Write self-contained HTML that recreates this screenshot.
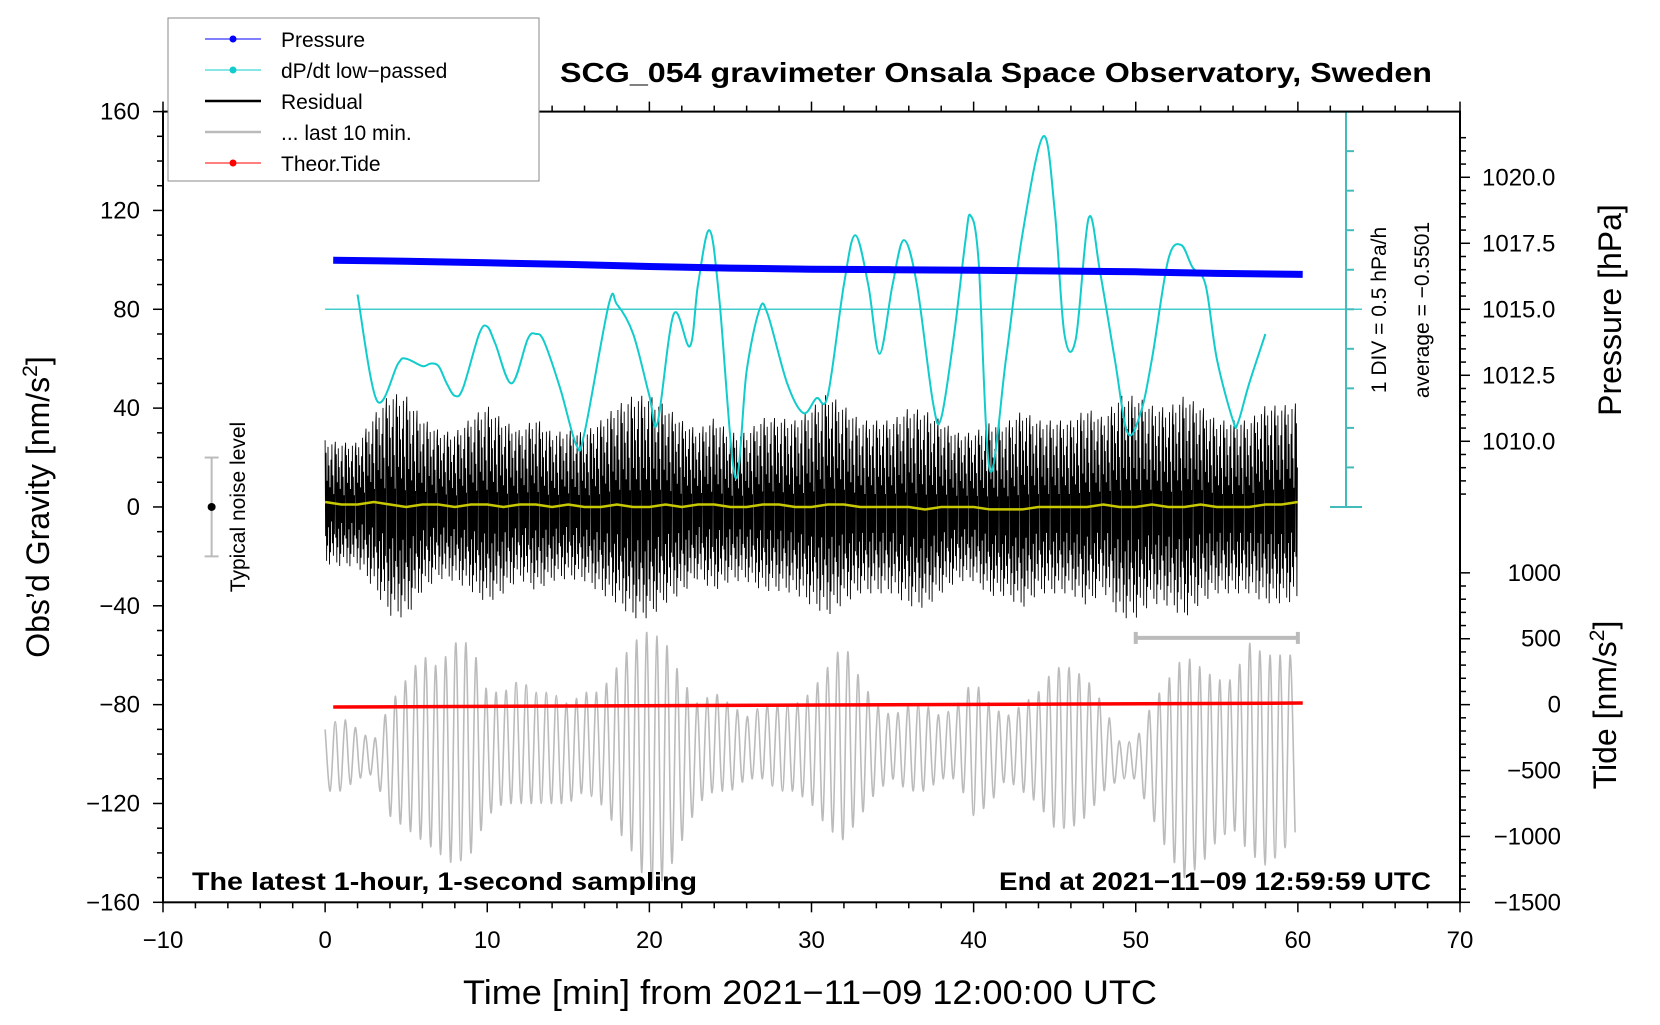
<!DOCTYPE html>
<html><head><meta charset="utf-8"><style>
html,body{margin:0;padding:0;background:#fff;}
svg text{font-family:"Liberation Sans",sans-serif;}
</style></head><body>
<svg id="c" width="1660" height="1020" viewBox="0 0 1660 1020" xmlns="http://www.w3.org/2000/svg">
<rect width="1660" height="1020" fill="#fff"/>
<g id="marks"></g>
<g id="axes"></g>
<text x="996" y="82" text-anchor="middle" font-size="28" font-weight="bold" textLength="872" lengthAdjust="spacingAndGlyphs">SCG_054 gravimeter Onsala Space Observatory, Sweden</text>
<text x="810" y="1004" text-anchor="middle" font-size="34" textLength="694" lengthAdjust="spacingAndGlyphs">Time [min] from 2021−11−09 12:00:00 UTC</text>
<text transform="translate(49,507) rotate(-90)" text-anchor="middle" font-size="32">Obs’d Gravity [nm/s<tspan font-size="21" dy="-12">2</tspan><tspan dy="12">]</tspan></text>
<text transform="translate(1621,310) rotate(-90)" text-anchor="middle" font-size="32">Pressure [hPa]</text>
<text transform="translate(1616,705) rotate(-90)" text-anchor="middle" font-size="32">Tide [nm/s<tspan font-size="21" dy="-12">2</tspan><tspan dy="12">]</tspan></text>
<text transform="translate(1386,310) rotate(-90)" text-anchor="middle" font-size="21">1 DIV = 0.5 hPa/h</text>
<text transform="translate(1429,310) rotate(-90)" text-anchor="middle" font-size="21">average = −0.5501</text>
<text transform="translate(245,507) rotate(-90)" text-anchor="middle" font-size="21">Typical noise level</text>
<text x="192" y="890" font-size="25" font-weight="bold" textLength="505" lengthAdjust="spacingAndGlyphs">The latest 1-hour, 1-second sampling</text>
<text x="1431" y="890" text-anchor="end" font-size="25" font-weight="bold" textLength="432" lengthAdjust="spacingAndGlyphs">End at 2021−11−09 12:59:59 UTC</text>
<g>
<rect x="168" y="18" width="371" height="163" fill="#fff" stroke="#888" stroke-width="1"/>
<g><line x1="205" y1="39" x2="261" y2="39" stroke="#00f" stroke-width="1"/><circle cx="233" cy="39" r="3.5" fill="#00f"/><text x="281" y="47" font-size="21">Pressure</text></g>
<g><line x1="205" y1="70" x2="261" y2="70" stroke="#1cc" stroke-width="1"/><circle cx="233" cy="70" r="3.5" fill="#1cc"/><text x="281" y="78" font-size="21">dP/dt low−passed</text></g>
<g><line x1="205" y1="101" x2="261" y2="101" stroke="#000" stroke-width="2.5"/><text x="281" y="109" font-size="21">Residual</text></g>
<g><line x1="205" y1="132" x2="261" y2="132" stroke="#bbb" stroke-width="2.5"/><text x="281" y="140" font-size="21">... last 10 min.</text></g>
<g><line x1="205" y1="163" x2="261" y2="163" stroke="#f00" stroke-width="1"/><circle cx="233" cy="163" r="3.5" fill="#f00"/><text x="281" y="171" font-size="21">Theor.Tide</text></g>
</g>
</svg>
<script>
// ---- data ----
const xTicks = [-10,0,10,20,30,40,50,60,70];
const gTicks = [160,120,80,40,0,-40,-80,-120,-160];
const pTicks = ["1020.0","1017.5","1015.0","1012.5","1010.0"];
const tTicks = [1000,500,0,-500,-1000,-1500];
const pressTime = [0.5,5,10,15,20,25,30,35,40,45,50,55,60.3];
const pressVal = [1016.86,1016.82,1016.76,1016.70,1016.62,1016.56,1016.52,1016.50,1016.48,1016.45,1016.42,1016.36,1016.32];
const dpTime = [2,3.2,4.5,5,6,6.5,7,7.5,8,8.5,9.5,10,10.5,11.5,12.5,13,13.5,14.5,15.5,16,17.5,18,19,20,20.5,21.5,22.5,23,23.7,24.3,25.3,26,26.8,27.3,28.5,29.5,30.3,31,32,32.7,33.5,34.2,35,35.7,36.5,37.5,38,38.8,39.5,39.8,40.3,41,42,43,44.3,45,45.6,46.3,47.1,47.8,48.7,49.5,50.3,51,52,52.8,53.5,54.3,55,56,56.3,57,58];
const dpVal = [-0.3626,-1.7064,-1.2376,-1.1751,-1.2689,-1.2376,-1.2689,-1.4876,-1.6439,-1.5501,-0.8626,-0.7689,-0.9876,-1.4876,-0.9251,-0.8626,-0.9564,-1.5501,-2.2689,-2.1126,-0.4876,-0.4876,-0.8626,-1.6439,-1.9876,-0.6126,-1.0189,-0.2376,0.4499,-0.3939,-2.6751,-1.3314,-0.5501,-0.6126,-1.4876,-1.8626,-1.6751,-1.6439,-0.2376,0.3874,-0.2376,-1.1126,-0.2376,0.3249,-0.2376,-1.7376,-1.9251,-0.8626,0.3249,0.6374,0.0749,-2.5814,-1.1751,0.3874,1.6374,0.6999,-0.8626,-0.9251,0.6061,-0.0814,-1.1751,-2.1126,-1.8626,-1.1751,0.0749,0.2624,-0.0189,-0.2376,-1.1751,-1.9564,-1.9876,-1.4876,-0.8626];
const resAmp = [25,25,25,35,45,45,35,30,30,35,40,35,30,35,30,30,30,35,40,45,45,40,35,30,35,30,30,35,35,35,40,45,40,35,35,35,40,40,35,30,30,35,35,40,35,35,35,40,35,45,45,40,40,45,40,35,35,35,40,40,40];
const yellowVal = [2,1,1,2,1,0,1,1,0,1,1,0,1,1,0,1,0,0,1,0,0,1,0,1,1,0,0,1,1,0,0,1,1,0,0,0,0,-1,0,0,0,-1,-1,-1,0,0,0,0,1,0,0,1,0,0,1,0,0,0,1,1,2];
const grayHi = [-90,-85,-90,-95,-80,-70,-60,-65,-55,-55,-75,-75,-70,-75,-75,-80,-75,-75,-65,-55,-50,-55,-70,-80,-75,-80,-85,-80,-80,-80,-75,-65,-55,-70,-80,-85,-80,-80,-85,-80,-70,-80,-85,-80,-75,-65,-65,-70,-80,-95,-95,-80,-70,-60,-65,-70,-70,-55,-60,-60,-60];
const grayLo = [-115,-115,-110,-108,-125,-130,-135,-140,-145,-140,-125,-120,-120,-120,-120,-120,-115,-120,-130,-140,-155,-150,-135,-120,-115,-115,-110,-110,-115,-115,-120,-130,-135,-125,-115,-110,-115,-115,-110,-110,-125,-120,-110,-115,-120,-130,-130,-125,-115,-110,-110,-125,-140,-150,-145,-135,-130,-140,-145,-140,-130];
const tideTime = [0.5,60.3];
const tideVal = [-18,12];
const dpAvg = -0.5501, dpDiv = 0.5;

// ---- scales ----
const X = t => 163 + (t + 10) * (1297 / 80);
const Y = g => 111.6 + (160 - g) * 2.471;
const YP = h => Y(80) - (h - 1015) * 26.4;
const YT = v => Y(-80) - v * 0.1318;
const YD = v => Y(80 + (v - dpAvg) / dpDiv * 16);
const AX = 1346;
const NS = "http://www.w3.org/2000/svg";
const marks = document.getElementById('marks');
const axes = document.getElementById('axes');
function mk(tag, attrs, parent) {
  const e = document.createElementNS(NS, tag);
  for (const k in attrs) e.setAttribute(k, attrs[k]);
  parent.appendChild(e);
  return e;
}
function interp(arr, t) { const i = Math.floor(t), f = t - i; const a = arr[Math.min(i, arr.length - 1)], b = arr[Math.min(i + 1, arr.length - 1)]; return a + (b - a) * f; }
function smoothPath(pts) {
  let d = 'M' + pts[0][0].toFixed(1) + ',' + pts[0][1].toFixed(1);
  for (let i = 0; i < pts.length - 1; i++) {
    const p0 = pts[Math.max(i - 1, 0)], p1 = pts[i], p2 = pts[i + 1], p3 = pts[Math.min(i + 2, pts.length - 1)];
    const c1 = [p1[0] + (p2[0] - p0[0]) / 6, p1[1] + (p2[1] - p0[1]) / 6];
    const c2 = [p2[0] - (p3[0] - p1[0]) / 6, p2[1] - (p3[1] - p1[1]) / 6];
    d += ' C' + c1.map(v => v.toFixed(1)).join(',') + ' ' + c2.map(v => v.toFixed(1)).join(',') + ' ' + p2.map(v => v.toFixed(1)).join(',');
  }
  return d;
}

// gray last-10-min trace
let gpts = [];
let k = 0;
for (let t = 0; t <= 60; t += 0.31, k++) {
  const v = (k % 2 === 0) ? interp(grayHi, t) : interp(grayLo, t);
  gpts.push([X(t), Y(v)]);
}
const grayLine = mk('path', {d: smoothPath(gpts), fill: 'none', stroke: '#bbb', 'stroke-width': 1.6}, marks);



// residual trace
const pat = [1, -0.55, 0.8, -0.95, 0.35, -0.7, 0.9, -0.4, 0.6, -1, 0.25, -0.8, 0.7, -0.3, 0.95, -0.65, 0.45, -0.85, 0.15, -0.5, 0.85];
let rp = [];
k = 0;
for (let t = 0; t <= 60; t += 0.03, k++) {
  const v = interp(yellowVal, t) + interp(resAmp, t) * pat[k % pat.length];
  rp.push(X(t).toFixed(1) + ',' + Y(v).toFixed(1));
}
const resLine = mk('polyline', {points: rp.join(' '), fill: 'none', stroke: '#000', 'stroke-width': 0.9}, marks);



// yellow smoothed residual
const yLine = mk('polyline', {points: yellowVal.map((v, i) => X(i) + ',' + Y(v)).join(' '), fill: 'none', stroke: '#c8c800', 'stroke-width': 2.5}, marks);



// dP/dt zero line and curve
const zl = mk('line', {x1: X(0), y1: YD(dpAvg), x2: AX + 16, y2: YD(dpAvg), stroke: '#4cc', 'stroke-width': 1.5}, marks);


const dpLine = mk('path', {d: smoothPath(dpTime.map((t, i) => [X(t), YD(dpVal[i])])), fill: 'none', stroke: '#1cc', 'stroke-width': 2, 'stroke-linejoin': 'round'}, marks);



// pressure band
const pLine = mk('polyline', {points: pressTime.map((t, i) => X(t).toFixed(1) + ',' + YP(pressVal[i]).toFixed(1)).join(' '), fill: 'none', stroke: '#00f', 'stroke-width': 7}, marks);



// tide
const tLine = mk('polyline', {points: tideTime.map((t, i) => X(t) + ',' + YT(tideVal[i])).join(' '), fill: 'none', stroke: '#f00', 'stroke-width': 3.5}, marks);



// last 10 min bar
const bar = mk('g', {stroke: '#bbb', 'stroke-width': 4}, marks);


mk('line', {x1: X(50), y1: Y(-53), x2: X(60), y2: Y(-53)}, bar);
mk('line', {x1: X(50), y1: Y(-53) - 6, x2: X(50), y2: Y(-53) + 6}, bar);
mk('line', {x1: X(60), y1: Y(-53) - 6, x2: X(60), y2: Y(-53) + 6}, bar);

// noise bar
const nb = mk('g', {stroke: '#bbb', 'stroke-width': 2}, marks);


mk('line', {x1: X(-7), y1: Y(20), x2: X(-7), y2: Y(-20)}, nb);
mk('line', {x1: X(-7) - 7, y1: Y(20), x2: X(-7) + 7, y2: Y(20)}, nb);
mk('line', {x1: X(-7) - 7, y1: Y(-20), x2: X(-7) + 7, y2: Y(-20)}, nb);
mk('circle', {cx: X(-7), cy: Y(0), r: 4, fill: '#000', stroke: 'none'}, nb);

// dP/dt scale axis
const dax = mk('g', {stroke: '#4bb', 'stroke-width': 2}, axes);


mk('line', {x1: AX, y1: Y(160), x2: AX, y2: Y(0)}, dax);
mk('line', {x1: AX - 16, y1: Y(160), x2: AX + 16, y2: Y(160)}, dax);
mk('line', {x1: AX - 16, y1: Y(0), x2: AX + 16, y2: Y(0)}, dax);
for (let g = 16; g < 160; g += 16) mk('line', {x1: AX, y1: Y(g), x2: AX + 8, y2: Y(g)}, dax);

// frame
const fr = mk('rect', {x: X(-10), y: Y(160), width: X(70) - X(-10), height: Y(-160) - Y(160), fill: 'none', stroke: '#000', 'stroke-width': 2}, axes);



const tk = mk('g', {stroke: '#000', 'stroke-width': 1.5}, axes);


for (let t = -10; t <= 70; t += 1) {
  const L = t % 10 === 0 ? 10 : (t % 2 === 0 ? 6 : 0);
  if (!L) continue;
  mk('line', {x1: X(t), y1: Y(-160), x2: X(t), y2: Y(-160) + L}, tk);
  mk('line', {x1: X(t), y1: Y(160), x2: X(t), y2: Y(160) - L}, tk);
}
for (let g = -160; g <= 160; g += 10) {
  const L = g % 40 === 0 ? 10 : 6;
  mk('line', {x1: X(-10), y1: Y(g), x2: X(-10) - L, y2: Y(g)}, tk);
}
for (let h = 1008; h <= 1021.5; h += 0.5) {
  const y = YP(h); if (y < 112 || y > 500) continue;
  const L = Math.abs((h * 2) % 5) < 0.01 ? 10 : 6;
  mk('line', {x1: X(70), y1: y, x2: X(70) + L, y2: y}, tk);
}
for (let v = -1500; v <= 1000; v += 100) {
  const L = v % 500 === 0 ? 10 : 6;
  mk('line', {x1: X(70), y1: YT(v), x2: X(70) + L, y2: YT(v)}, tk);
}

// labels
xTicks.forEach(t => {
  const e = mk('text', {x: X(t), y: 948, 'text-anchor': 'middle', 'font-size': 24}, axes);
  
  
  e.textContent = t < 0 ? '−' + (-t) : t;
});
gTicks.forEach(g => {
  const e = mk('text', {x: 140, y: Y(g) + 8, 'text-anchor': 'end', 'font-size': 24}, axes);
  
  
  e.textContent = g < 0 ? '−' + (-g) : g;
});
pTicks.forEach(p => {
  const e = mk('text', {x: 1482, y: YP(parseFloat(p)) + 8, 'font-size': 24}, axes);
  
  
  e.textContent = p;
});
tTicks.forEach(v => {
  const e = mk('text', {x: 1561, y: YT(v) + 8, 'text-anchor': 'end', 'font-size': 24}, axes);
  
  
  e.textContent = v < 0 ? '−' + (-v) : v;
});
</script>
</body></html>
